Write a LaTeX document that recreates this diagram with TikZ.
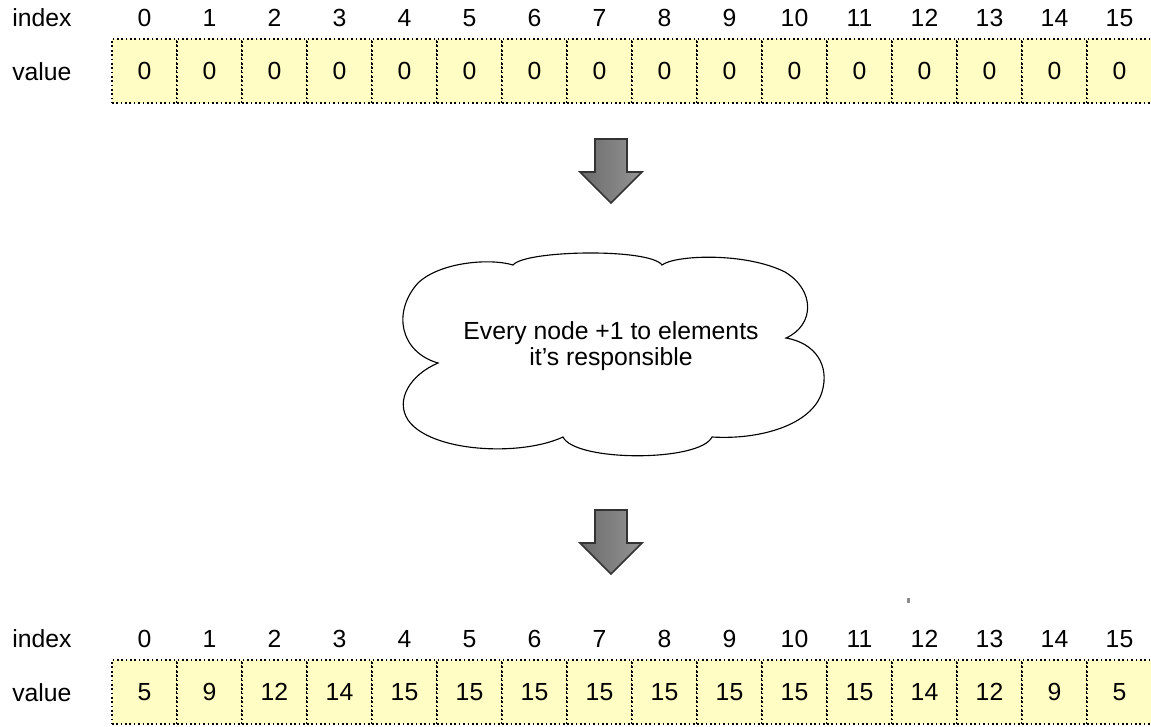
\documentclass[tikz,border=0pt]{standalone}
\usepackage{fontspec}
\setmainfont{Liberation Sans}
\usetikzlibrary{arrows.meta,positioning}
\definecolor{cellyellow}{RGB}{255,252,196}
\tikzset {
  >=Stealth,
  every node/.style={font=\fontsize{17.6}{18.6}\selectfont, inner sep=0pt},
  cellbox/.style={draw, line width=0.9pt, dash pattern=on 1.2pt off 1.9pt,
    fill=cellyellow, minimum width=1.625cm, minimum height=1.6cm},
  bigarrow/.style={draw=black!80, line width=1.2pt, left color=black!58, right color=black!42},
  cloudline/.style={draw, line width=0.8pt},
}

\begin{document}
\begin{tikzpicture}[x=0.025cm,y=-0.025cm]
  \useasboundingbox (0,0) rectangle (1151,727);

  % array before
  \node[anchor=base west] (idxA) at (12,27) {index};
  \node[anchor=base west] (valA) at (12,81) {value};
  \foreach \v [count=\i from 0] in {0,0,0,0,0,0,0,0,0,0,0,0,0,0,0,0} {
    \node[anchor=base] (iA\i) at ({144.5+65*\i},27) {\i};
    \node[cellbox] (cA\i) at ({144.5+65*\i},71) {\v};
  }

  % arrows
  \foreach \y in {139,510}
    \draw[bigarrow] (595,\y) -- ++(32,0) -- ++(0,33) -- ++(15,0) -- ++(-31,31)
      -- ++(-31,-31) -- ++(15,0) -- cycle;

  % cloud
  \draw[cloudline] (438,363)
    .. controls (400,352) and (392,312) .. (418,283)
    .. controls (440,262) and (490,258) .. (513,265)
    .. controls (525,250) and (650,248) .. (662,265)
    .. controls (675,255) and (745,252) .. (785,272)
    .. controls (815,290) and (815,325) .. (786,338)
    .. controls (815,343) and (830,365) .. (822,392)
    .. controls (812,425) and (760,440) .. (712,437)
    .. controls (700,462) and (575,462) .. (563,437)
    .. controls (520,457) and (430,452) .. (408,420)
    .. controls (395,400) and (410,375) .. (438,363) -- cycle;
  \node[align=center] (note) at (611,346) {Every node +1 to elements\\it’s responsible};

  \fill[black!45] (907,598) rectangle (910,603);

  % array after
  \node[anchor=base west] (idxB) at (12,647) {index};
  \node[anchor=base west] (valB) at (12,701) {value};
  \foreach \v [count=\i from 0] in {5,9,12,14,15,15,15,15,15,15,15,15,14,12,9,5} {
    \node[anchor=base] (iB\i) at ({144.5+65*\i},647) {\i};
    \node[cellbox] (cB\i) at ({144.5+65*\i},692) {\v};
  }
\end{tikzpicture}
\end{document}
